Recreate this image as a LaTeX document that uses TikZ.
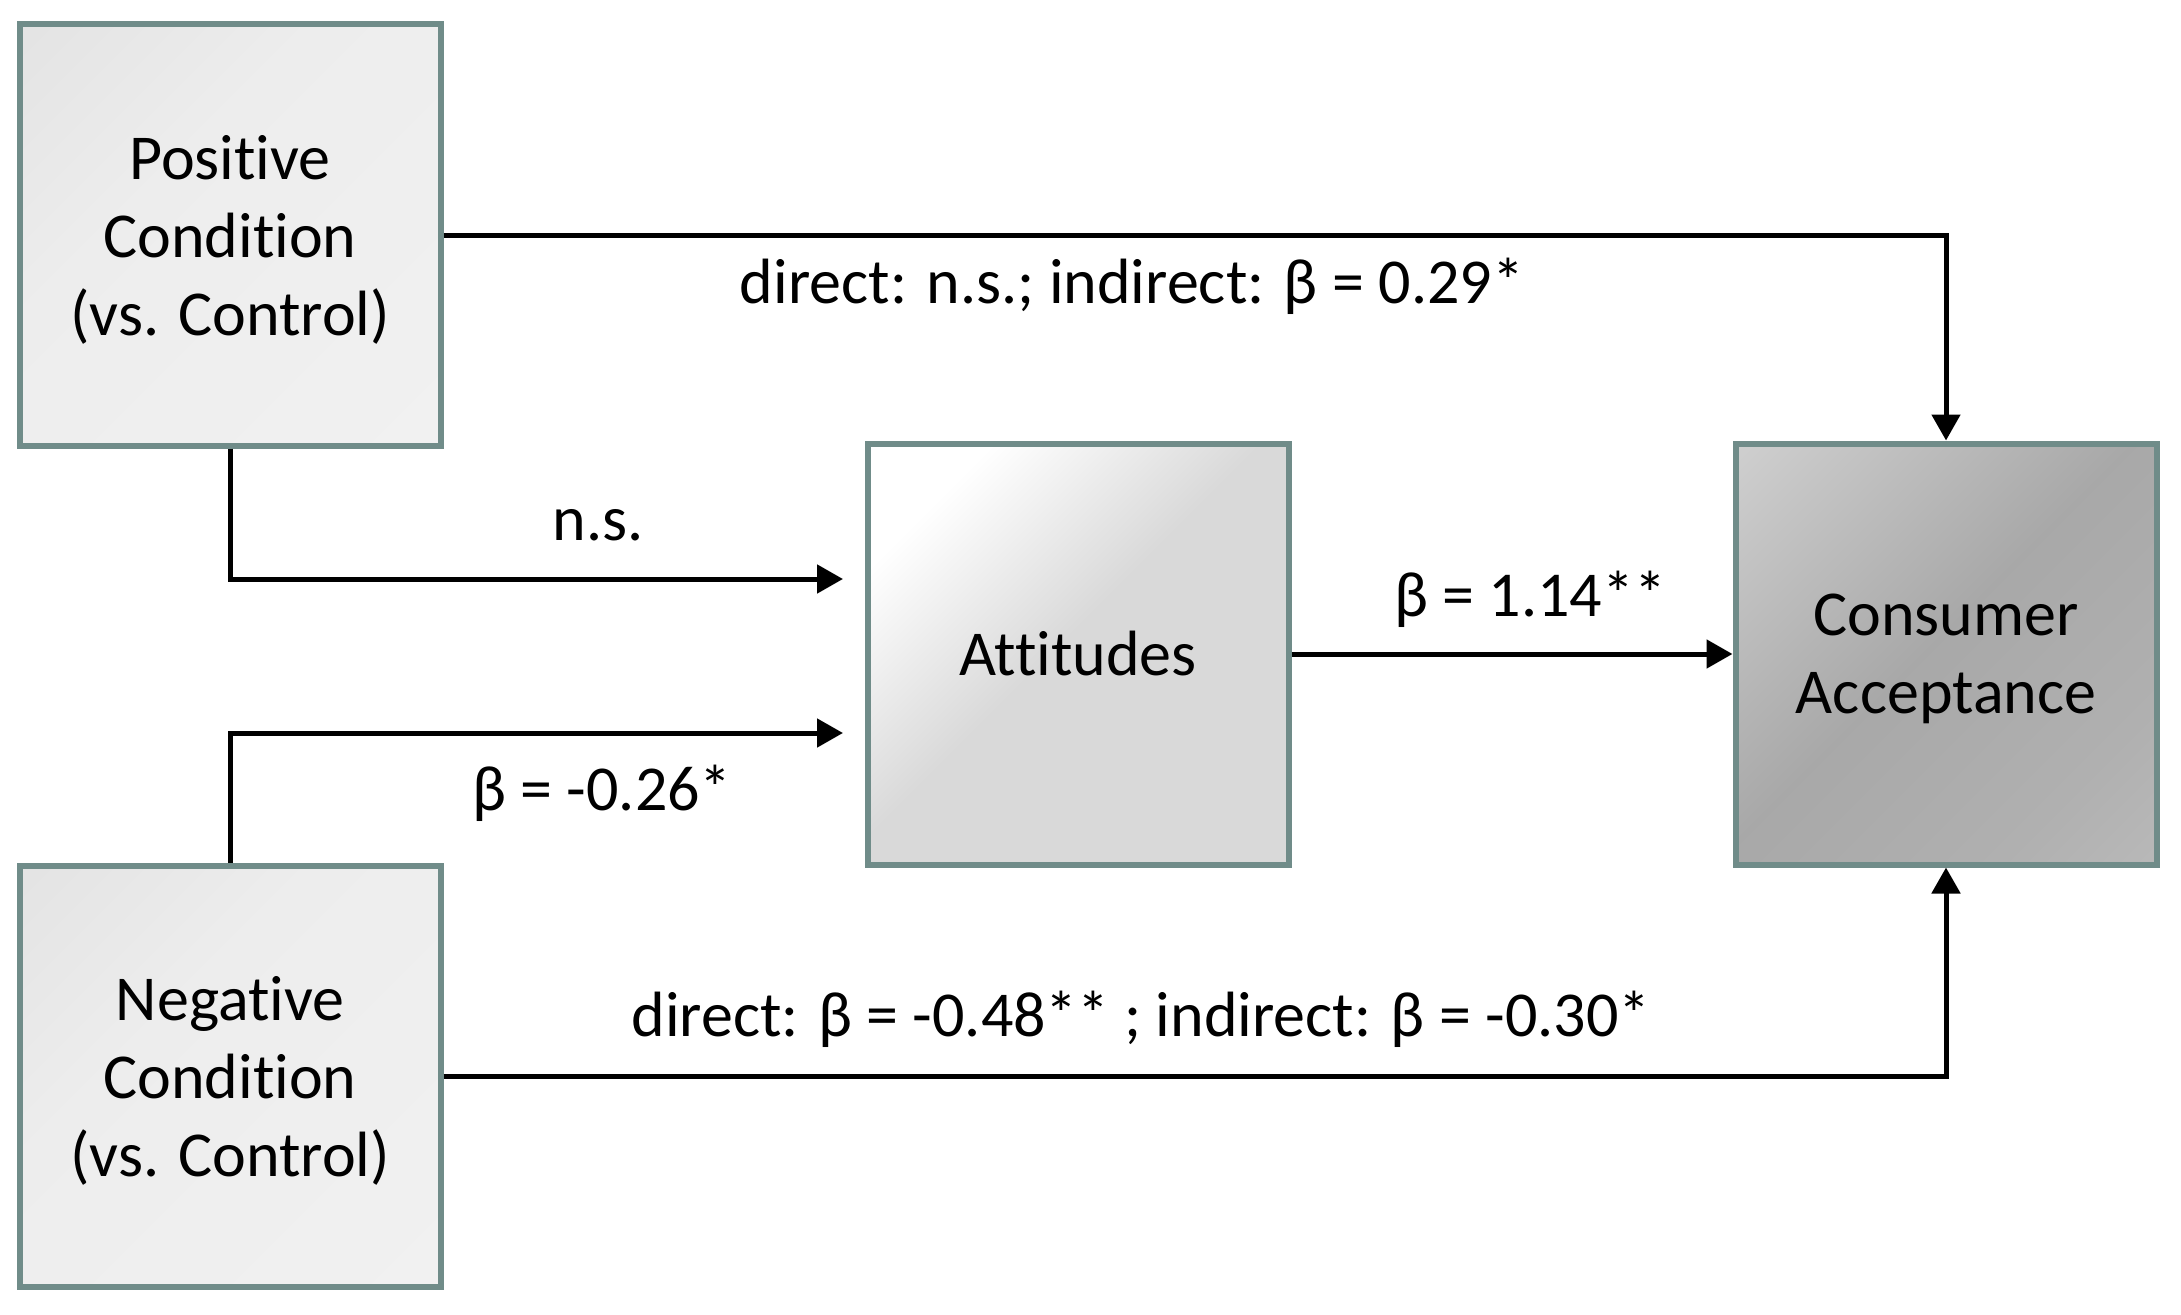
\documentclass[tikz,border=0pt]{standalone}
\usepackage{fontspec}
\setmainfont{Carlito}[Ligatures={NoCommon,NoRare,NoContextual}]
\usetikzlibrary{arrows.meta}
\definecolor{bordc}{RGB}{112,140,137}
\pgfdeclarehorizontalshading{condsh}{100bp}{color(0bp)=(black!13); color(40bp)=(black!7); color(100bp)=(black!5)}
\pgfdeclarehorizontalshading{attsh}{100bp}{color(0bp)=(white); color(25bp)=(white); color(48bp)=(black!15); color(100bp)=(black!15)}
\pgfdeclarehorizontalshading{conssh}{100bp}{color(0bp)=(black!12); color(48bp)=(black!34); color(72bp)=(black!31); color(100bp)=(black!24)}
\begin{document}
\begin{tikzpicture}[x=1pt,y=1pt,
  box/.style={draw=bordc, line width=6pt, minimum width=421pt, minimum height=421pt,
    inner sep=0pt, shading angle=-45},
  boxtxt/.style={inner sep=0pt, align=center, font=\fontsize{64}{78}\selectfont},
  arr/.style={line width=5pt, -{Triangle[length=26pt,width=28pt]}},
  lbl/.style={anchor=base, inner sep=0pt, font=\fontsize{64}{78}\selectfont}]
\useasboundingbox (0,0) rectangle (2181,-1314);
\fill[white] (0,0) rectangle (2181,-1314);
\node[box, shading=condsh] (pos) at (230,-235) {};
\node[box, shading=condsh] (neg) at (230,-1076) {};
\node[box, shading=attsh] (att) at (1078,-654) {};
\node[box, shading=conssh] (cons) at (1946,-654) {};
\node[boxtxt] (post) at ([yshift=-5pt]pos.center) {Positive\\Condition\\(vs. Control)};
\node[boxtxt] (negt) at ([yshift=-5pt]neg.center) {Negative\\Condition\\(vs. Control)};
\node[boxtxt] (attt) at (att.center) {Attitudes};
\node[boxtxt] (const) at ([yshift=-5pt]cons.center) {Consumer\\Acceptance};
\coordinate (a1) at (843,-579);
\coordinate (a2) at (843,-733);
\draw[arr] (pos.east) -- (pos.east -| cons.north) -- (cons.north);
\draw[arr] (pos.south) |- (a1);
\draw[arr] (neg.north) |- (a2);
\draw[arr] (att.east) -- (cons.west);
\draw[arr] (neg.east) -- (neg.east -| cons.south) -- (cons.south);
\node[lbl] (l1) at (1132,-303) {direct: n.s.; indirect: β = 0.29*};
\node[lbl] (l2) at (598,-540) {n.s.};
\node[lbl] (l3) at (602,-810) {β = -0.26*};
\node[lbl] (l4) at (1530,-616) {β = 1.14**};
\node[lbl] (l5) at (1141,-1036) {direct: β = -0.48** ; indirect: β = -0.30*};
\end{tikzpicture}
\end{document}
